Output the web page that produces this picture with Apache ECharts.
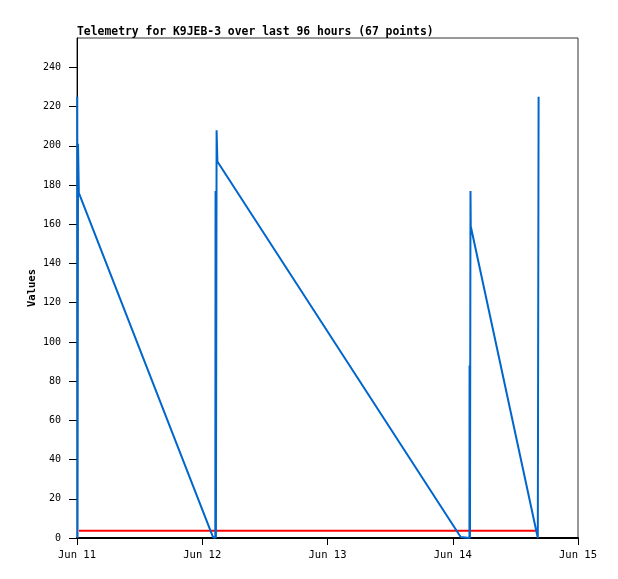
<!DOCTYPE html>
<html>
<head>
<meta charset="utf-8">
<script src="https://cdn.jsdelivr.net/npm/echarts@6/dist/echarts.min.js"></script>
<style>html,body{margin:0;padding:0;background:#fff}#c{width:618px;height:579px}</style>
</head>
<body>
<div id="c"></div>
<script>
// hours since Jun 11 00:00
var xTickLabels = ['Jun 11', 'Jun 12', 'Jun 13', 'Jun 14', 'Jun 15'];
var yTickValues = [0, 20, 40, 60, 80, 100, 120, 140, 160, 180, 200, 220, 240];
var valueHours = [0.05, 0.1, 0.2, 0.35, 26.06, 26.5, 26.55, 26.62, 26.75, 26.9, 73.52, 75.2, 75.22, 75.3, 75.4, 75.45, 88.3, 88.45];
var valueData  = [225, 0, 201, 176, 0.5, 0, 177, 0, 208, 192, 0.5, 0, 88, 0, 177, 159, 0, 225];
var limitHours = [0.38, 88.2];
var limitData  = [3.7, 3.7];

function pairs(xs, ys) { return xs.map(function (x, i) { return [x, ys[i]]; }); }

var mono = "'DejaVu Sans Mono', 'Liberation Mono', monospace";
var chart = echarts.init(document.getElementById('c'), null, {renderer: 'canvas'});
chart.setOption({
  animation: false,
  backgroundColor: '#fff',
  title: {
    text: 'Telemetry for K9JEB-3 over last 96 hours (67 points)',
    left: 72, top: 22,
    textStyle: {fontFamily: mono, fontSize: 11.4, fontWeight: 'bold', color: '#000'}
  },
  grid: {left: 77, top: 38, right: 40, bottom: 41, show: true, borderColor: '#333', borderWidth: 1, backgroundColor: 'transparent'},
  xAxis: {
    type: 'value', min: 0, max: 96, interval: 24,
    axisLine: {show: true, onZero: false, lineStyle: {color: '#000', width: 2}},
    axisTick: {show: true, length: 7, lineStyle: {color: '#000', width: 1}},
    splitLine: {show: false},
    axisLabel: {
      fontFamily: mono, fontSize: 10.5, color: '#000', margin: 12,
      formatter: function (v) { return xTickLabels[Math.round(v / 24)] || ''; }
    }
  },
  yAxis: {
    type: 'value', min: 0, max: 255, interval: 20,
    name: 'Values', nameLocation: 'middle', nameGap: 39, nameRotate: 90, nameMoveOverlap: false,
    nameTextStyle: {fontFamily: mono, fontSize: 10.5, fontWeight: 'bold', color: '#000'},
    axisLine: {show: true, lineStyle: {color: '#000', width: 1}},
    axisTick: {show: true, length: 8, lineStyle: {color: '#000', width: 1}},
    splitLine: {show: false},
    axisLabel: {
      fontFamily: mono, fontSize: 10, color: '#000', margin: 16, showMaxLabel: false,
      formatter: function (v) { return yTickValues.indexOf(v) >= 0 ? String(v) : ''; }
    }
  },
  series: [
    {type: 'line', data: pairs(limitHours, limitData), symbol: 'none', lineStyle: {color: '#ff0000', width: 2}, z: 3},
    {type: 'line', data: pairs(valueHours, valueData), symbol: 'none', lineStyle: {color: '#0066cc', width: 2}, z: 4}
  ]
});
</script>
</body>
</html>
